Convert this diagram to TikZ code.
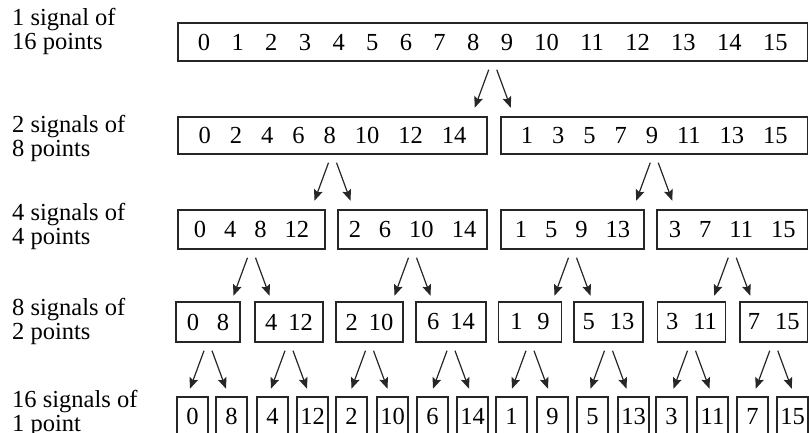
\documentclass[tikz,border=0pt]{standalone}
\usepackage{fontspec}
\setmainfont{Liberation Serif}
\usetikzlibrary{calc,arrows.meta}
\newcommand\gR[1]{\hspace{#1pt}}
\begin{document}
\begin{tikzpicture}[x=1pt,y=-1pt,
  box/.style={draw=black!85, line width=1.4pt, inner sep=0pt, font=\fontsize{24.5}{26}\selectfont},
  lab/.style={anchor=base west, inner sep=0pt, align=left, font=\fontsize{24.5}{24}\selectfont},
  arr/.style={draw=black!85, line width=1.2pt, -{Stealth[length=11pt,width=9pt,inset=2pt,fill=black!85]}}]
\clip (0,0) rectangle (809,433);
% labels (anchored at the baseline of their last line)
\node[lab] (l1) at (12,50) {1 signal of\\16 points};
\node[lab] (l2) at (12,157) {2 signals of\\8 points};
\node[lab] (l3) at (12,244) {4 signals of\\4 points};
\node[lab] (l4) at (12,339) {8 signals of\\2 points};
\node[lab] (l5) at (12,431) {16 signals of\\1 point};
% row 1
\node[box, minimum width=629.5pt, minimum height=38pt] (r1) at (492.75,42)
  {0\gR{21.4}1\gR{21.4}2\gR{21.4}3\gR{21.4}4\gR{21.4}5\gR{21.4}6\gR{21.4}7\gR{21.4}8\gR{21.4}9\gR{21.4}10\gR{21.4}11\gR{21.4}12\gR{21.4}13\gR{21.4}14\gR{21.4}15};
% row 2
\node[box, minimum width=309pt, minimum height=37pt] (r2a) at (332.5,135.5)
  {0\gR{19}2\gR{19}4\gR{19}6\gR{19}8\gR{19}10\gR{19}12\gR{19}14};
\node[box, minimum width=306.5pt, minimum height=37pt] (r2b) at (654.25,135.5)
  {1\gR{19}3\gR{19}5\gR{19}7\gR{19}9\gR{19}11\gR{19}13\gR{19}15};
% row 3
\node[box, minimum width=147pt, minimum height=39pt] (r3a) at (251.5,229.5) {0\gR{18}4\gR{18}8\gR{18}12};
\node[box, minimum width=149pt, minimum height=39pt] (r3b) at (412.5,229.5) {2\gR{18}6\gR{18}10\gR{18}14};
\node[box, minimum width=143pt, minimum height=39pt] (r3c) at (572.5,229.5) {1\gR{18}5\gR{18}9\gR{18}13};
\node[box, minimum width=150.5pt, minimum height=39pt] (r3d) at (732.25,229.5) {3\gR{18}7\gR{18}11\gR{18}15};
% row 4
\node[box, minimum width=64pt, minimum height=40pt] (r4a) at (208,322) {0\gR{18}8};
\node[box, minimum width=68pt, minimum height=40pt] (r4b) at (289,322) {4\gR{11}12};
\node[box, minimum width=67pt, minimum height=40pt] (r4c) at (369.5,322) {2\gR{11}10};
\node[box, minimum width=70pt, minimum height=40pt] (r4d) at (451,322) {6\gR{11}14};
\node[box, minimum width=63pt, minimum height=40pt] (r4e) at (530,322) {1\gR{15}9};
\node[box, minimum width=69pt, minimum height=40pt] (r4f) at (608.5,322) {5\gR{15}13};
\node[box, minimum width=68pt, minimum height=40pt] (r4g) at (691.5,322) {3\gR{15}11};
\node[box, minimum width=67.5pt, minimum height=40pt] (r4h) at (773.75,322) {7\gR{15}15};
% row 5
\foreach \n/\xl [count=\i] in {0/177,8/216,4/257,12/297,2/336,10/377,6/417,14/457,1/496,9/537,5/577,13/618,3/656,11/697,7/737,15/777}{
  \node[box, minimum width=31pt, minimum height=39pt] (r5-\i) at (\xl+15.5,416.5) {\n};
}
% arrows
\foreach \p in {r1,r2a,r2b,r3a,r3b,r3c,r3d,r4a,r4b,r4c,r4d,r4e,r4f,r4g,r4h}{
  \coordinate (\p-sl) at ($(\p.south)+(-4,8)$);
  \coordinate (\p-sr) at ($(\p.south)+(4,8)$);
  \coordinate (\p-el) at ($(\p.south)+(-18,46)$);
  \coordinate (\p-er) at ($(\p.south)+(18,46)$);
  \draw[arr] (\p-sl) -- (\p-el);
  \draw[arr] (\p-sr) -- (\p-er);
}
\end{tikzpicture}
\end{document}
